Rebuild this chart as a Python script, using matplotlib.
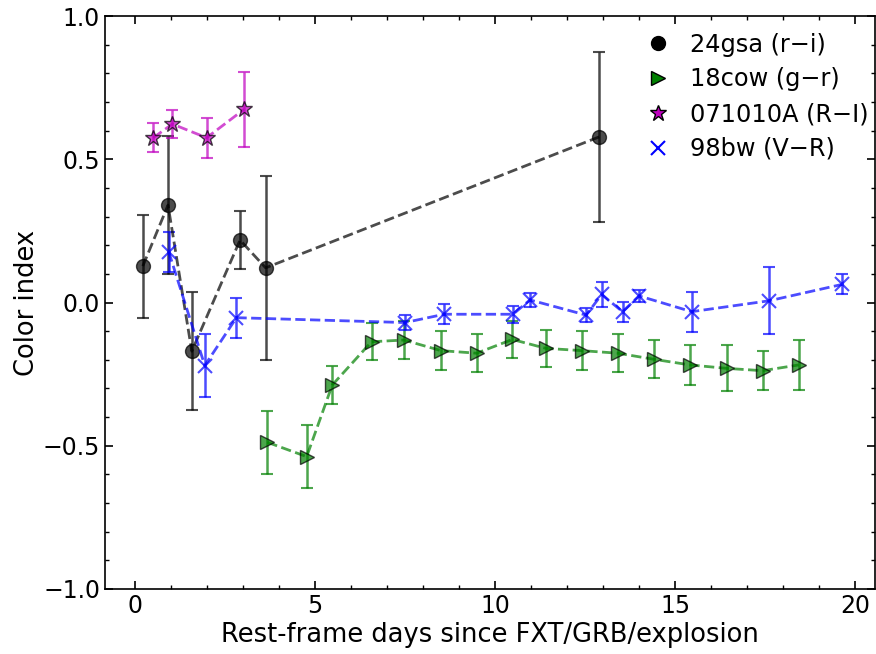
import matplotlib
matplotlib.use('Agg')
import matplotlib.pyplot as plt
from matplotlib.lines import Line2D
from matplotlib.ticker import MultipleLocator

# 24gsa (r-i)
gsa_t = [0.22, 0.92, 1.58, 2.92, 3.63, 12.89]
gsa_c = [0.127, 0.34, -0.17, 0.218, 0.121, 0.578]
gsa_e = [0.18, 0.24, 0.205, 0.10, 0.32, 0.297]

# 18cow (g-r)
cow_t = [3.68, 4.77, 5.48, 6.57, 7.47, 8.50, 9.49, 10.48, 11.41, 12.41,
         13.41, 14.40, 15.42, 16.44, 17.43, 18.43]
cow_c = [-0.488, -0.538, -0.288, -0.137, -0.131, -0.168, -0.177, -0.129,
         -0.160, -0.168, -0.177, -0.198, -0.218, -0.230, -0.238, -0.218]
cow_e = [0.11, 0.11, 0.066, 0.065, 0.065, 0.067, 0.066, 0.065, 0.065,
         0.067, 0.066, 0.067, 0.07, 0.08, 0.067, 0.086]

# 071010A (R-I)
grb_t = [0.51, 1.04, 1.99, 3.03]
grb_c = [0.575, 0.623, 0.575, 0.674]
grb_e = [0.05, 0.05, 0.07, 0.13]

# 98bw (V-R)
bw_t = [0.94, 1.94, 2.82, 7.50, 8.59, 10.50, 10.97, 12.53, 12.96, 13.54,
        14.00, 15.46, 17.61, 19.63]
bw_c = [0.177, -0.22, -0.053, -0.07, -0.041, -0.041, 0.009, -0.044, 0.028,
        -0.032, 0.023, -0.032, 0.006, 0.063]
bw_e = [0.07, 0.11, 0.07, 0.025, 0.035, 0.03, 0.025, 0.025, 0.042, 0.035,
        0.02, 0.07, 0.117, 0.035]

plt.rcParams['font.size'] = 17

fig = plt.figure(figsize=(8.76, 6.54), dpi=100)
ax = fig.add_axes([105 / 876, 65 / 654, 770 / 876, 573 / 654])

ebkw = dict(ls='--', lw=2, capsize=4, elinewidth=1.8, capthick=1.5, alpha=0.7)

ax.errorbar(gsa_t, gsa_c, yerr=gsa_e, color='k', marker='o', ms=10,
            mfc='k', mec='k', **ebkw)
ax.errorbar(cow_t, cow_c, yerr=cow_e, color='g', marker='>', ms=10,
            mfc='g', mec='k', **ebkw)
ax.errorbar(grb_t, grb_c, yerr=grb_e, color='m', marker='*', ms=12,
            mfc='m', mec='k', **ebkw)
ax.errorbar(bw_t, bw_c, yerr=bw_e, color='b', marker='x', ms=10,
            mew=1.5, **ebkw)

handles = [
    Line2D([], [], ls='none', marker='o', ms=10, color='k'),
    Line2D([], [], ls='none', marker='>', ms=10, mfc='g', mec='k'),
    Line2D([], [], ls='none', marker='*', ms=12, mfc='m', mec='k'),
    Line2D([], [], ls='none', marker='x', ms=10, color='b', mew=1.5),
]
labels = ['24gsa (r\u2212i)', '18cow (g\u2212r)', '071010A (R\u2212I)', '98bw (V\u2212R)']
ax.legend(handles, labels, loc='upper right', bbox_to_anchor=(1.006, 0.99),
          frameon=False, fontsize=17.3, handlelength=1.2, labelspacing=0.45,
          borderaxespad=0.05, handletextpad=0.75)

ax.set_xlim(-0.83, 20.55)
ax.set_ylim(-1, 1)
ax.xaxis.set_major_locator(MultipleLocator(5))
ax.xaxis.set_minor_locator(MultipleLocator(1))
ax.yaxis.set_major_locator(MultipleLocator(0.5))
ax.yaxis.set_minor_locator(MultipleLocator(0.1))
ax.tick_params(which='both', direction='in', top=True, right=True)
ax.tick_params(which='major', length=6, width=1.2, labelsize=17)
ax.tick_params(which='minor', length=3, width=1)
for s in ax.spines.values():
    s.set_linewidth(1.2)

ax.set_xlabel('Rest-frame days since FXT/GRB/explosion', fontsize=18.5,
              labelpad=3)
ax.set_ylabel('Color index', fontsize=18.5, labelpad=2)

fig.savefig('out.png', dpi=100)
